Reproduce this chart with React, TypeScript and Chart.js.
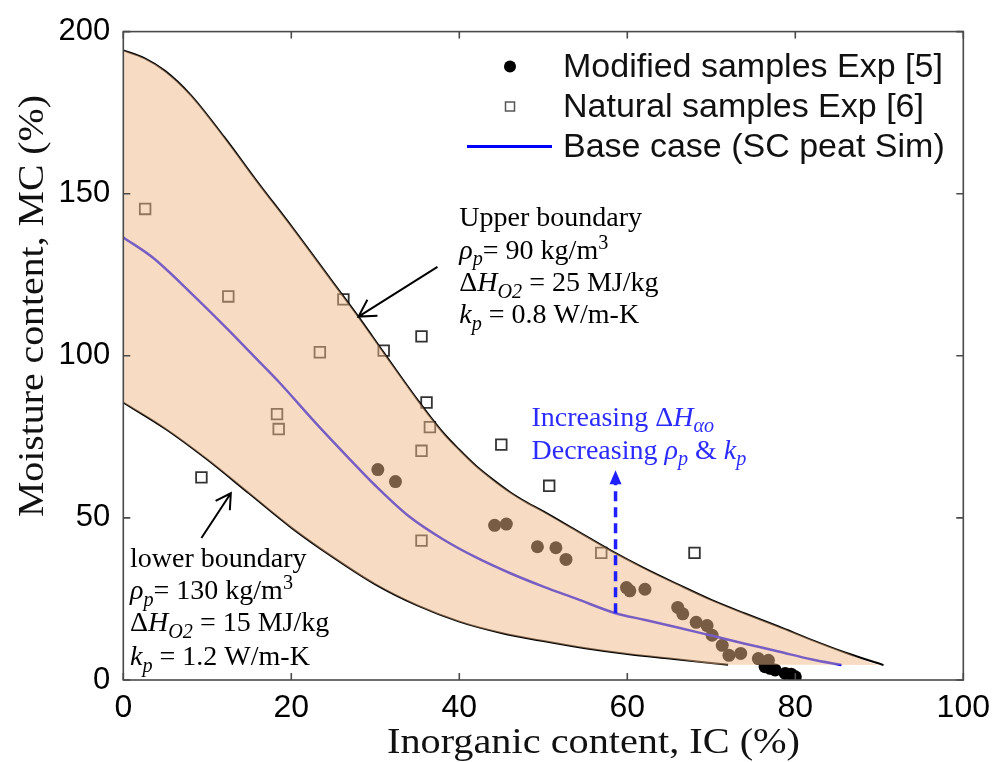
import React, { useEffect, useRef } from 'react';
import { Chart, registerables } from 'chart.js';

Chart.register(...registerables);

// ---- data ----
const upperIC = [0, 2.5, 5, 8, 12, 16, 20, 25, 28, 31, 35, 38, 40, 42, 44, 46, 48, 50, 54, 58, 62, 66, 70, 74, 78, 82, 86, 90.5];
const upperMC = [194.2, 191.8, 187.8, 180.5, 167.5, 153.5, 140, 122.5, 112, 101, 86.5, 76.5, 71, 66, 61.8, 58, 54.8, 52, 46, 40, 34.5, 29.5, 24.7, 20.5, 16.5, 12.3, 8.4, 4.6];

const lowerIC = [0, 5, 10, 15, 20, 25, 30, 35, 40, 45, 50, 55, 60, 65, 72];
const lowerMC = [85.6, 77.5, 68, 57.5, 47, 37.8, 29.5, 23, 18, 14.5, 12, 9.8, 8, 6.6, 4.7];

const baseIC = [0, 3.5, 8, 12.5, 15.5, 18.5, 23, 27, 30, 34, 38, 42, 46, 50, 54, 58.6, 62, 66, 70, 74, 78, 82, 85.5];
const baseMC = [136.5, 130.3, 119.5, 108, 100, 92, 79, 68, 60, 50.5, 43.5, 37.8, 33, 28.8, 25, 20.6, 18.6, 16.2, 13.7, 11.2, 8.8, 6.3, 4.6];

const naturalIC = [2.6, 9.3, 12.5, 18.3, 18.5, 23.4, 26.2, 31.0, 35.5, 36.1, 36.5, 35.5, 35.5, 45.0, 50.7, 56.9, 68.0];
const naturalMC = [145.3, 62.5, 118.3, 82.0, 77.4, 101.1, 117.4, 101.6, 106.0, 85.6, 78.0, 70.7, 43.0, 72.6, 59.9, 39.2, 39.2];

const modifiedIC = [30.3, 32.4, 44.2, 45.6, 49.3, 51.5, 52.7, 59.9, 60.3, 62.1, 66.0, 66.6, 68.2, 69.5, 70.1, 71.3, 72.1, 73.5, 75.6, 76.8, 76.4, 77.0, 77.6, 78.8, 79.5, 80.0];
const modifiedMC = [64.9, 61.2, 47.7, 48.1, 41.1, 40.8, 37.2, 28.5, 27.5, 28.0, 22.4, 20.4, 17.8, 16.8, 13.8, 10.7, 7.6, 8.2, 6.6, 6.1, 4.1, 3.6, 3.1, 2.0, 1.8, 1.0];

const xTickValues = [0, 20, 40, 60, 80, 100];
const xTickLabels = ['0', '20', '40', '60', '80', '100'];
const yTickValues = [0, 50, 100, 150, 200];
const yTickLabels = ['0', '50', '100', '150', '200'];

const legendLabels = ['Modified samples Exp [5]', 'Natural samples Exp [6]', 'Base case (SC peat Sim)'];
const xTitle = 'Inorganic content, IC (%)';
const yTitle = 'Moisture content, MC (%)';

// ---- helpers ----
const zip = (xs: number[], ys: number[]) => xs.map((x, i) => ({ x, y: ys[i] }));

type Seg = { t: string; it?: boolean; sub?: boolean; sup?: boolean };
const SERIF = '"Liberation Serif", "Times New Roman", serif';
const SANS = '"Liberation Sans", Arial, sans-serif';

function drawRich(ctx: CanvasRenderingContext2D, segs: Seg[], x: number, y: number, size: number, color: string) {
  let cx = x;
  ctx.fillStyle = color;
  ctx.textAlign = 'left';
  ctx.textBaseline = 'alphabetic';
  for (const s of segs) {
    const fs = s.sub || s.sup ? size * 0.72 : size;
    ctx.font = `${s.it ? 'italic ' : ''}${fs}px ${SERIF}`;
    const dy = s.sub ? size * 0.24 : s.sup ? -size * 0.34 : 0;
    ctx.fillText(s.t, cx, y + dy);
    cx += ctx.measureText(s.t).width;
  }
}

function openArrow(ctx: CanvasRenderingContext2D, x1: number, y1: number, x2: number, y2: number, head: number) {
  const a = Math.atan2(y1 - y2, x1 - x2);
  const spread = (30 * Math.PI) / 180;
  ctx.beginPath();
  ctx.moveTo(x1, y1);
  ctx.lineTo(x2, y2);
  ctx.moveTo(x2 + head * Math.cos(a + spread), y2 + head * Math.sin(a + spread));
  ctx.lineTo(x2, y2);
  ctx.lineTo(x2 + head * Math.cos(a - spread), y2 + head * Math.sin(a - spread));
  ctx.stroke();
}

function stretchText(ctx: CanvasRenderingContext2D, text: string, font: string, targetW: number) {
  ctx.font = font;
  const w = ctx.measureText(text).width;
  ctx.scale(targetW / w, 1);
  ctx.textAlign = 'center';
  ctx.textBaseline = 'alphabetic';
  ctx.fillText(text, 0, 0);
}

const decorPlugin = {
  id: 'decor',
  afterDatasetsDraw(chart: any) {
    const { ctx, chartArea: a, scales } = chart;
    const xs = scales.x, ys = scales.y;
    ctx.save();
    ctx.strokeStyle = '#4a4a4a';
    ctx.lineWidth = 1.6;
    ctx.strokeRect(a.left, a.top, a.right - a.left, a.bottom - a.top);
    const tl = 7;
    ctx.beginPath();
    for (const v of xTickValues) {
      const px = xs.getPixelForValue(v);
      ctx.moveTo(px, a.bottom); ctx.lineTo(px, a.bottom - tl);
      ctx.moveTo(px, a.top); ctx.lineTo(px, a.top + tl);
    }
    for (const v of yTickValues) {
      const py = ys.getPixelForValue(v);
      ctx.moveTo(a.left, py); ctx.lineTo(a.left + tl, py);
      ctx.moveTo(a.right, py); ctx.lineTo(a.right - tl, py);
    }
    ctx.stroke();
    ctx.restore();
  },
  afterDraw(chart: any) {
    const { ctx, scales } = chart;
    const X = (v: number) => scales.x.getPixelForValue(v);
    const Y = (v: number) => scales.y.getPixelForValue(v);
    ctx.save();

    // legend
    ctx.fillStyle = '#000';
    ctx.beginPath();
    ctx.arc(510, 66.5, 6, 0, Math.PI * 2);
    ctx.fill();
    ctx.strokeStyle = '#555';
    ctx.lineWidth = 1.5;
    ctx.strokeRect(505.5, 102, 9, 9);
    ctx.strokeStyle = '#0000ff';
    ctx.lineWidth = 3;
    ctx.beginPath();
    ctx.moveTo(467, 146.5); ctx.lineTo(552, 146.5);
    ctx.stroke();
    ctx.fillStyle = '#111';
    ctx.font = `34px ${SANS}`;
    ctx.textAlign = 'left';
    ctx.textBaseline = 'alphabetic';
    legendLabels.forEach((t, i) => ctx.fillText(t, 563, 77 + i * 40));

    // annotations
    const fs = 28;
    const upperLines: Seg[][] = [
      [{ t: 'Upper boundary' }],
      [{ t: 'ρ', it: true }, { t: 'p', it: true, sub: true }, { t: '= 90 kg/m' }, { t: '3', sup: true }],
      [{ t: 'Δ' }, { t: 'H', it: true }, { t: 'O2', it: true, sub: true }, { t: ' = 25 MJ/kg' }],
      [{ t: 'k', it: true }, { t: 'p', it: true, sub: true }, { t: ' = 0.8 W/m-K' }],
    ];
    const upperBase = [140, 130, 120, 110];
    upperLines.forEach((l, i) => drawRich(ctx, l, X(40.0), Y(upperBase[i]), fs, '#000'));

    const lowerLines: Seg[][] = [
      [{ t: 'lower boundary' }],
      [{ t: 'ρ', it: true }, { t: 'p', it: true, sub: true }, { t: '= 130 kg/m' }, { t: '3', sup: true }],
      [{ t: 'Δ' }, { t: 'H', it: true }, { t: 'O2', it: true, sub: true }, { t: ' = 15 MJ/kg' }],
      [{ t: 'k', it: true }, { t: 'p', it: true, sub: true }, { t: ' = 1.2 W/m-K' }],
    ];
    const lowerBase = [35, 25, 15, 4.5];
    lowerLines.forEach((l, i) => drawRich(ctx, l, X(0.8), Y(lowerBase[i]), fs, '#000'));

    const blue = '#2b2bff';
    const blueLines: Seg[][] = [
      [{ t: 'Increasing Δ' }, { t: 'H', it: true }, { t: 'αo', it: true, sub: true }],
      [{ t: 'Decreasing ' }, { t: 'ρ', it: true }, { t: 'p', it: true, sub: true }, { t: ' & ' }, { t: 'k', it: true }, { t: 'p', it: true, sub: true }],
    ];
    const blueBase = [78.5, 68.3];
    blueLines.forEach((l, i) => drawRich(ctx, l, X(48.6), Y(blueBase[i]), fs, blue));

    // black arrows
    ctx.strokeStyle = '#000';
    ctx.lineWidth = 2;
    openArrow(ctx, X(37.4), Y(127.4), X(28.0), Y(112.1), 19);
    openArrow(ctx, X(9.3), Y(43.8), X(12.8), Y(57.6), 17);

    // blue dashed arrow
    const ax = X(58.6);
    const tipY = Y(64.7);
    ctx.strokeStyle = '#1f1fff';
    ctx.fillStyle = '#1f1fff';
    ctx.lineWidth = 3.5;
    ctx.setLineDash([10, 6]);
    ctx.beginPath();
    ctx.moveTo(ax, Y(20.6));
    ctx.lineTo(ax, tipY + 12);
    ctx.stroke();
    ctx.setLineDash([]);
    ctx.beginPath();
    ctx.moveTo(ax, tipY);
    ctx.lineTo(ax - 6, tipY + 14);
    ctx.lineTo(ax + 6, tipY + 14);
    ctx.closePath();
    ctx.fill();

    // axis titles
    ctx.fillStyle = '#111';
    ctx.save();
    ctx.translate(593.5, 753);
    stretchText(ctx, xTitle, `35px ${SERIF}`, 413);
    ctx.restore();
    ctx.save();
    ctx.translate(43, 306);
    ctx.rotate(-Math.PI / 2);
    stretchText(ctx, yTitle, `35px ${SERIF}`, 422);
    ctx.restore();

    ctx.restore();
  },
};

export default function App() {
  const ref = useRef<HTMLCanvasElement | null>(null);

  useEffect(() => {
    document.body.style.margin = '0';
    const canvas = ref.current;
    if (!canvas) return;

    const band = [...zip(upperIC, upperMC), ...zip(lowerIC, lowerMC).reverse()];
    const lineCommon = { pointRadius: 0, fill: false, cubicInterpolationMode: 'monotone' };

    const chart = new Chart(canvas, {
      type: 'scatter',
      data: {
        datasets: [
          {
            type: 'line',
            label: 'band',
            data: band,
            fill: 'shape',
            backgroundColor: 'rgba(240,185,135,0.5)',
            borderColor: 'rgba(0,0,0,0)',
            borderWidth: 0,
            pointRadius: 0,
            cubicInterpolationMode: 'monotone',
            order: 0,
          },
          {
            type: 'line',
            label: legendLabels[2],
            data: zip(baseIC, baseMC),
            borderColor: '#0000ff',
            borderWidth: 2.5,
            ...lineCommon,
            order: 1,
          },
          {
            type: 'line',
            label: 'upper',
            data: zip(upperIC, upperMC),
            borderColor: '#000',
            borderWidth: 2,
            ...lineCommon,
            order: 2,
          },
          {
            type: 'line',
            label: 'lower',
            data: zip(lowerIC, lowerMC),
            borderColor: '#000',
            borderWidth: 2,
            ...lineCommon,
            order: 3,
          },
          {
            label: legendLabels[1],
            data: zip(naturalIC, naturalMC),
            pointStyle: 'rect',
            pointRadius: 7.5,
            borderColor: '#333',
            borderWidth: 1.8,
            backgroundColor: 'rgba(0,0,0,0)',
            order: 4,
          },
          {
            label: legendLabels[0],
            data: zip(modifiedIC, modifiedMC),
            pointStyle: 'circle',
            pointRadius: 6.5,
            borderWidth: 0,
            backgroundColor: '#000',
            order: 5,
          },
        ],
      } as any,
      options: {
        responsive: false,
        animation: false,
        layout: { padding: { left: 0, right: 30, top: 26, bottom: 0 } },
        plugins: {
          legend: { display: false },
          tooltip: { enabled: false },
          filler: { drawTime: 'beforeDatasetDraw', propagate: false },
        } as any,
        scales: {
          x: {
            type: 'linear',
            min: 0,
            max: 100,
            afterBuildTicks: (s: any) => { s.ticks = xTickValues.map((v) => ({ value: v })); },
            ticks: {
              callback: (v: any) => xTickLabels[xTickValues.indexOf(Number(v))] ?? '',
              font: { family: SANS, size: 32 },
              color: '#000',
              padding: 9,
              maxRotation: 0,
            },
            grid: { display: false, drawTicks: false },
            border: { display: false },
            afterFit: (s: any) => { s.height = 82; },
          },
          y: {
            type: 'linear',
            min: 0,
            max: 200,
            afterBuildTicks: (s: any) => { s.ticks = yTickValues.map((v) => ({ value: v })); },
            ticks: {
              callback: (v: any) => yTickLabels[yTickValues.indexOf(Number(v))] ?? '',
              font: { family: SANS, size: 31 },
              color: '#000',
              padding: 13,
            },
            grid: { display: false, drawTicks: false },
            border: { display: false },
            afterFit: (s: any) => { s.width = 123.3; },
          },
        },
      } as any,
      plugins: [decorPlugin],
    });

    return () => chart.destroy();
  }, []);

  return (
    <div style={{ width: 999, height: 762 }}>
      <canvas ref={ref} width={999} height={762} style={{ display: 'block' }} />
    </div>
  );
}
